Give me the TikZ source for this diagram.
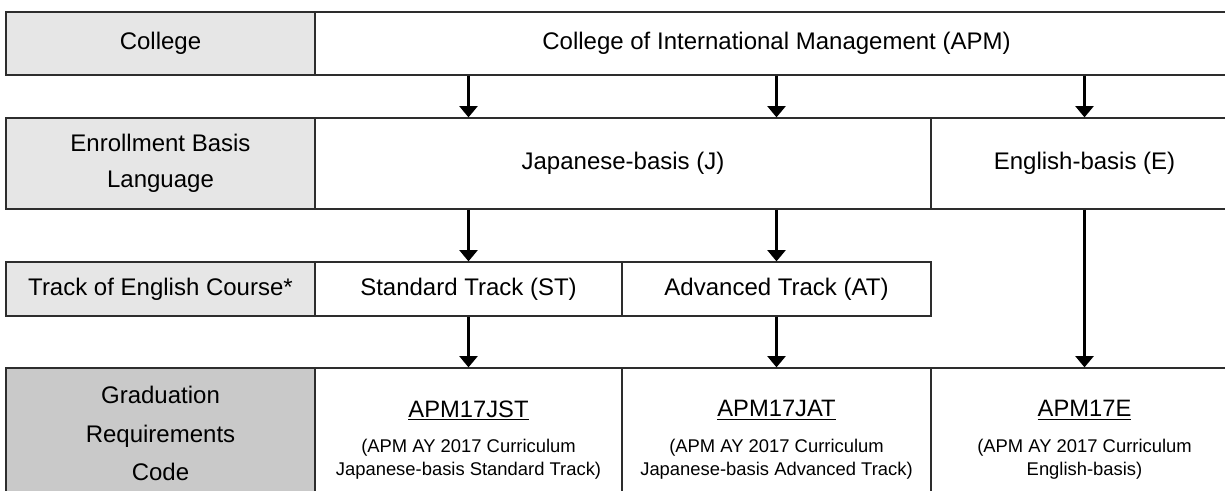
\documentclass[tikz,border=0pt]{standalone}
\usepackage{fontspec}
\setmainfont{Liberation Sans}
\usetikzlibrary{arrows.meta}
\definecolor{lab}{RGB}{230,230,230}
\definecolor{labdark}{RGB}{201,201,201}
\definecolor{rule}{RGB}{45,45,45}
\begin{document}
\begin{tikzpicture}[x=0.75pt,y=-0.75pt,
  cell/.style={draw=rule, line width=0.9pt, rectangle, inner sep=0pt, align=center,
               font=\fontsize{18}{27}\selectfont},
  lbl/.style={cell, fill=lab},
  lbldark/.style={cell, fill=labdark, font=\fontsize{18}{29}\selectfont},
  codecell/.style={cell, font=\fontsize{13.8}{17.5}\selectfont},
  sz/.style 2 args={minimum width={#1*0.75pt}, minimum height={#2*0.75pt}},
  arr/.style={line width=2pt, -{Triangle[width=13.5pt,length=8.5pt]}}]
\useasboundingbox (0,0) rectangle (1225,491);
\clip (0,0) rectangle (1225,491);

% row 1
\node[lbl, sz={309}{63}] (lab1) at (160.5,43.5) {College};
\node[cell, sz={923}{63}] (coll) at (776.5,43.5) {College of International Management (APM)};

% row 2
\node[lbl, sz={309}{91}] (lab2) at (160.5,163.5) {Enrollment Basis\\Language};
\node[cell, sz={616}{91}] (jp) at (623,163.5) {Japanese-basis (J)};
\node[cell, sz={307}{91}] (en) at (1084.5,163.5) {English-basis (E)};

% row 3
\node[lbl, sz={309}{54}] (lab3) at (160.5,289) {Track of English Course*};
\node[cell, sz={307}{54}] (st) at (468.5,289) {Standard Track (ST)};
\node[cell, sz={309}{54}] (at) at (776.5,289) {Advanced Track (AT)};

% row 4 (cells run past the lower edge of the picture)
\node[lbldark, sz={309}{131}] (lab4) at (160.5,433.5) {Graduation\\Requirements\\Code};
\node[codecell, sz={307}{144}] (s4) at (468.5,440)
  {{\fontsize{17.8}{17.8}\selectfont\underline{APM17JST}}\\[9pt](APM AY 2017 Curriculum\\Japanese-basis Standard Track)};
\node[codecell, sz={309}{144}] (a4) at (776.5,440)
  {{\fontsize{17.8}{17.8}\selectfont\underline{APM17JAT}}\\[9pt](APM AY 2017 Curriculum\\Japanese-basis Advanced Track)};
\node[codecell, sz={307}{144}] (e4) at (1084.5,440)
  {{\fontsize{17.8}{17.8}\selectfont\underline{APM17E}}\\[9pt](APM AY 2017 Curriculum\\English-basis)};

% arrows
\draw[arr] (coll.south -| st.north) -- (jp.north -| st.north);
\draw[arr] (coll.south -| at.north) -- (jp.north -| at.north);
\draw[arr] (coll.south -| en.north) -- (en.north);
\draw[arr] (jp.south -| st.north) -- (st.north);
\draw[arr] (jp.south -| at.north) -- (at.north);
\draw[arr] (en.south) -- (e4.north);
\draw[arr] (st.south) -- (s4.north);
\draw[arr] (at.south) -- (a4.north);
\end{tikzpicture}
\end{document}
